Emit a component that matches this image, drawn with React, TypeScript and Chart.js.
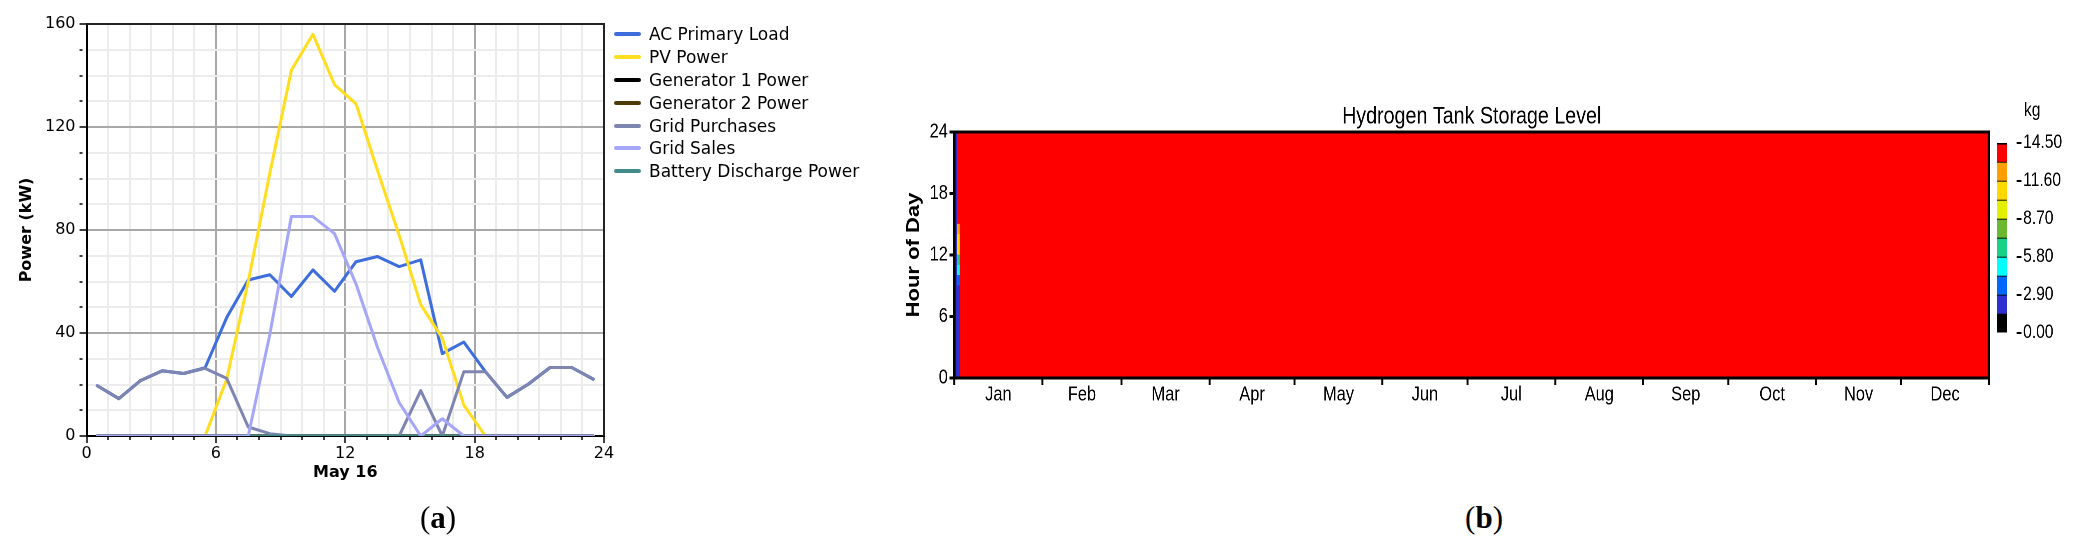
import React, { useEffect, useRef } from 'react';
import { Chart, registerables } from 'chart.js';

Chart.register(...registerables);

// ---------------- Panel (a): daily power profile, May 16 ----------------
const hourOfDay = [0.5, 1.5, 2.5, 3.5, 4.5, 5.5, 6.5, 7.5, 8.5, 9.5, 10.5, 11.5, 12.5, 13.5, 14.5, 15.5, 16.5, 17.5, 18.5, 19.5, 20.5, 21.5, 22.5, 23.5];
const acPrimaryLoad = [19.5, 14.5, 21.5, 25.3, 24.3, 26.5, 46, 60.6, 62.6, 54.2, 64.5, 56.2, 67.7, 69.7, 65.8, 68.4, 32, 36.5, 25, 15, 20.2, 26.6, 26.6, 22.1];
const pvPower = [0, 0, 0, 0, 0, 0, 22, 60, 102, 142, 156, 136.5, 129, 103, 78, 51, 38, 12, 0, 0, 0, 0, 0, 0];
const generator1Power = [0, 0, 0, 0, 0, 0, 0, 0, 0, 0, 0, 0, 0, 0, 0, 0, 0, 0, 0, 0, 0, 0, 0, 0];
const generator2Power = [0, 0, 0, 0, 0, 0, 0, 0, 0, 0, 0, 0, 0, 0, 0, 0, 0, 0, 0, 0, 0, 0, 0, 0];
const gridPurchases = [19.5, 14.5, 21.5, 25.3, 24.3, 26.3, 22.4, 3.5, 0.9, 0, 0, 0, 0, 0, 0, 17.6, 0, 25, 25, 15, 20.2, 26.6, 26.6, 22.1];
const gridSales = [0, 0, 0, 0, 0, 0, 0, 0, 39.4, 85.2, 85.2, 78.6, 59, 34.3, 13, 0, 6.7, 0, 0, 0, 0, 0, 0, 0];
const batteryDischargePower = [0, 0, 0, 0, 0, 0, 0, 0, 0, 0, 0, 0, 0, 0, 0, 0, 0, 0, 0, 0, 0, 0, 0, 0];

const seriesA = [
  { label: 'AC Primary Load', values: acPrimaryLoad, color: '#3D6EDC', layer: 6 },
  { label: 'PV Power', values: pvPower, color: '#FFDD1F', layer: 5 },
  { label: 'Generator 1 Power', values: generator1Power, color: '#000000', layer: 4 },
  { label: 'Generator 2 Power', values: generator2Power, color: '#4D3B0C', layer: 3 },
  { label: 'Grid Purchases', values: gridPurchases, color: '#7E85B0', layer: 2 },
  { label: 'Grid Sales', values: gridSales, color: '#A6A6F8', layer: 0 },
  { label: 'Battery Discharge Power', values: batteryDischargePower, color: '#438B8A', layer: 1 },
];

// ---------------- Panel (b): hydrogen tank storage level ----------------
const monthNames = ['Jan', 'Feb', 'Mar', 'Apr', 'May', 'Jun', 'Jul', 'Aug', 'Sep', 'Oct', 'Nov', 'Dec'];
const daysInMonth = [31, 28, 31, 30, 31, 30, 31, 31, 30, 31, 30, 31];
const hourRows = [0, 1, 2, 3, 4, 5, 6, 7, 8, 9, 10, 11, 12, 13, 14, 15, 16, 17, 18, 19, 20, 21, 22, 23];
const jan1StorageKg = [2.2, 2.2, 2.2, 2.2, 2.2, 2.2, 2.2, 2.2, 2.2, 2.2, 2.2, 2.2, 2.2, 2.2, 2.2, 2.2, 2.2, 2.2, 2.2, 2.2, 2.2, 2.2, 2.2, 2.2];
const jan2StorageKg = [2.2, 2.2, 2.2, 2.2, 2.2, 2.2, 2.2, 2.2, 2.2, 3.6, 5.1, 6.6, 10.9, 11.3, 12.4, 14.5, 14.5, 14.5, 14.5, 14.5, 14.5, 14.5, 14.5, 14.5];
const laterDaysStorageKg = 14.5;
const legendEdgesKg = [0, 1.45, 2.9, 4.35, 5.8, 7.25, 8.7, 10.15, 11.6, 13.05, 14.5];
const legendColors = ['#000000', '#3030D0', '#0066FF', '#00FFFF', '#18D088', '#6CB82E', '#E2F000', '#FFD800', '#FFA000', '#FF0000'];
const legendTickKg = [0, 2.9, 5.8, 8.7, 11.6, 14.5];

// Panel (b) text is condensed: its canvases are drawn wide and squeezed horizontally.
const SQUEEZE = 0.82;
const ARIAL = "'Liberation Sans', Arial, sans-serif";
const SANS = "'DejaVu Sans', sans-serif";

function bandColor(kg: number): string {
  for (let i = 0; i < legendColors.length; i++) {
    if (kg < legendEdgesKg[i + 1]) return legendColors[i];
  }
  return legendColors[legendColors.length - 1];
}

function storageAt(day: number, hour: number): number {
  if (day === 0) return jan1StorageKg[hour];
  if (day === 1) return jan2StorageKg[hour];
  return laterDaysStorageKg;
}

function PowerChart() {
  const ref = useRef<HTMLCanvasElement>(null);
  useEffect(() => {
    const frame = {
      id: 'frameA',
      beforeDatasetsDraw(chart: any) {
        const { ctx, chartArea: a } = chart;
        ctx.save();
        ctx.strokeStyle = '#222';
        ctx.lineWidth = 2;
        ctx.beginPath();
        ctx.moveTo(a.left, a.top);
        ctx.lineTo(a.right, a.top);
        ctx.lineTo(a.right, a.bottom);
        ctx.stroke();
        ctx.restore();
      },
    };
    const chart = new Chart(ref.current as HTMLCanvasElement, {
      type: 'line',
      data: {
        datasets: seriesA.map((s) => ({
          label: s.label,
          data: hourOfDay.map((h, i) => ({ x: h, y: s.values[i] })),
          borderColor: s.color,
          backgroundColor: s.color,
          borderWidth: 3,
          pointRadius: 0,
          tension: 0,
          order: s.layer,
          borderJoinStyle: 'round',
          borderCapStyle: 'round',
        })),
      },
      options: {
        responsive: false,
        animation: false,
        events: [],
        layout: { padding: { top: 24, right: 26, bottom: 19, left: 15 } },
        plugins: { legend: { display: false }, tooltip: { enabled: false } },
        scales: {
          x: {
            type: 'linear',
            min: 0,
            max: 24,
            ticks: {
              stepSize: 1,
              autoSkip: false,
              maxRotation: 0,
              padding: 3,
              color: '#000',
              font: { family: SANS, size: 16, lineHeight: 1 },
              callback: (v: any) => (Number(v) % 6 === 0 ? String(v) : ''),
            },
            grid: {
              color: (c: any) => (c.tick && c.tick.value % 6 === 0 ? '#A8A8A8' : '#ECECEC'),
              lineWidth: 2,
              tickLength: 7,
              tickColor: '#000',
              tickWidth: 1.5,
              tickBorderDash: (c: any) => (c.tick && c.tick.value % 6 === 0 ? [] : [3, 100]),
            },
            border: { color: '#000', width: 2 },
            title: {
              display: true,
              text: 'May 16',
              color: '#000',
              font: { family: SANS, size: 16, weight: 'bold', lineHeight: 1 },
              padding: { top: 0, bottom: 0 },
            },
          },
          y: {
            type: 'linear',
            min: 0,
            max: 160,
            ticks: {
              stepSize: 10,
              autoSkip: false,
              padding: 4,
              color: '#000',
              font: { family: SANS, size: 16, lineHeight: 1 },
              callback: (v: any) => (Number(v) % 40 === 0 ? String(v) : ''),
            },
            grid: {
              color: (c: any) => (c.tick && c.tick.value % 40 === 0 ? '#A8A8A8' : '#ECECEC'),
              lineWidth: 2,
              tickLength: 7,
              tickColor: '#000',
              tickWidth: 1.5,
              tickBorderDash: (c: any) => (c.tick && c.tick.value % 40 === 0 ? [] : [3, 100]),
            },
            border: { color: '#000', width: 2 },
            title: {
              display: true,
              text: 'Power (kW)',
              color: '#000',
              font: { family: SANS, size: 16, weight: 'bold', lineHeight: 1 },
              padding: { top: 4, bottom: 6 },
            },
          },
        },
      } as any,
      plugins: [frame],
    });
    return () => chart.destroy();
  }, []);
  return <canvas ref={ref} width={630} height={500} style={{ position: 'absolute', left: 0, top: 0 }} />;
}

function StorageHeatmap() {
  const ref = useRef<HTMLCanvasElement>(null);
  useEffect(() => {
    const boundaries: number[] = [0];
    daysInMonth.forEach((d) => boundaries.push(boundaries[boundaries.length - 1] + d));
    const midpoints = monthNames.map((_, i) => (boundaries[i] + boundaries[i + 1]) / 2);
    const totalDays = boundaries[boundaries.length - 1];

    const datasets = hourRows.map((h) => {
      const pts = Array.from({ length: totalDays }, (_, d) => ({ x: d + 0.5, y: [h, h + 1], kg: storageAt(d, h) }));
      return {
        label: 'Hour ' + h,
        data: pts,
        backgroundColor: pts.map((p) => bandColor(p.kg)),
        borderWidth: 0,
        grouped: false,
        barPercentage: 1,
        categoryPercentage: 1,
      };
    });

    const deco = {
      id: 'decoB',
      afterDatasetsDraw(chart: any) {
        const { ctx, chartArea: a } = chart;
        ctx.save();
        ctx.strokeStyle = '#000';
        ctx.lineWidth = 3;
        ctx.strokeRect(a.left, a.top, a.right - a.left, a.bottom - a.top);
        ctx.fillStyle = '#000';
        ctx.font = `normal 24px ${ARIAL}`;
        ctx.textAlign = 'center';
        ctx.textBaseline = 'middle';
        ctx.fillText('Hydrogen Tank Storage Level', (a.left + a.right) / 2, a.top - 15);
        ctx.restore();
      },
    };

    const chart = new Chart(ref.current as HTMLCanvasElement, {
      type: 'bar',
      data: { datasets },
      options: {
        responsive: false,
        animation: false,
        events: [],
        devicePixelRatio: 2,
        layout: { padding: { top: 42, right: 25.6, bottom: 25, left: 27 } },
        plugins: { legend: { display: false }, tooltip: { enabled: false } },
        scales: {
          x: {
            type: 'linear',
            min: 0,
            max: totalDays,
            offset: false,
            afterBuildTicks: (scale: any) => {
              scale.ticks = [...boundaries, ...midpoints].sort((p, q) => p - q).map((v) => ({ value: v }));
            },
            ticks: {
              autoSkip: false,
              maxRotation: 0,
              padding: 0,
              color: '#000',
              font: { family: ARIAL, size: 20, lineHeight: 1 },
              callback: (v: any) => {
                const i = midpoints.indexOf(Number(v));
                return i >= 0 ? monthNames[i] : '';
              },
            },
            grid: {
              offset: false,
              drawOnChartArea: false,
              tickLength: 7,
              tickWidth: 2.4,
              tickColor: (c: any) => (c.tick && boundaries.indexOf(c.tick.value) >= 0 ? '#000' : 'rgba(0,0,0,0)'),
            },
            border: { color: '#000', width: 3 },
          },
          y: {
            type: 'linear',
            min: 0,
            max: 24,
            ticks: {
              stepSize: 6,
              padding: 2,
              color: '#000',
              font: { family: ARIAL, size: 20, lineHeight: 1 },
            },
            grid: { drawOnChartArea: false, tickLength: 6, tickWidth: 3, tickColor: '#000' },
            border: { color: '#000', width: 3 },
            title: {
              display: true,
              text: 'Hour of Day',
              color: '#000',
              font: { family: ARIAL, size: 22, weight: 'bold', lineHeight: 1 },
              padding: { top: 3.5, bottom: 6 },
            },
          },
        },
      } as any,
      plugins: [deco],
    });
    return () => chart.destroy();
  }, []);
  return (
    <div style={{ position: 'absolute', left: 880, top: 90, transform: `scaleX(${SQUEEZE})`, transformOrigin: '0 0' }}>
      <canvas ref={ref} style={{ display: 'block', width: 1378, height: 340 }} width={1378} height={340} />
    </div>
  );
}

function StorageColorBar() {
  const ref = useRef<HTMLCanvasElement>(null);
  useEffect(() => {
    const unit = {
      id: 'unitLabel',
      afterDraw(chart: any) {
        const { ctx, chartArea: a } = chart;
        ctx.save();
        ctx.fillStyle = '#000';
        ctx.font = `normal 19px ${ARIAL}`;
        ctx.textAlign = 'left';
        ctx.textBaseline = 'alphabetic';
        ctx.fillText('kg', a.right + 9, a.top - 27);
        ctx.restore();
      },
    };
    const chart = new Chart(ref.current as HTMLCanvasElement, {
      type: 'bar',
      data: {
        labels: ['kg'],
        datasets: legendColors.map((c, i) => ({
          label: legendEdgesKg[i] + '–' + legendEdgesKg[i + 1],
          data: [[legendEdgesKg[i], legendEdgesKg[i + 1]]],
          backgroundColor: c,
          borderColor: '#000',
          borderWidth: { top: i === legendColors.length - 1 ? 2 : 1, right: 0, bottom: 0, left: 0 },
          borderSkipped: false,
          grouped: false,
          barPercentage: 1,
          categoryPercentage: 1,
        })),
      },
      options: {
        responsive: false,
        animation: false,
        events: [],
        devicePixelRatio: 2,
        layout: { padding: { top: 43, right: 17.5, bottom: 27, left: 14.6 } },
        plugins: { legend: { display: false }, tooltip: { enabled: false } },
        scales: {
          x: { display: false, offset: false },
          y: {
            position: 'right',
            min: 0,
            max: 14.5,
            afterBuildTicks: (scale: any) => {
              scale.ticks = legendTickKg.map((v) => ({ value: v }));
            },
            afterFit: (scale: any) => {
              scale.width = 56;
            },
            ticks: {
              padding: 2,
              color: '#000',
              font: { family: ARIAL, size: 19, lineHeight: 1 },
              callback: (v: any) => Number(v).toFixed(2),
            },
            grid: { drawOnChartArea: false, tickLength: 6, tickWidth: 2, tickColor: '#000' },
            border: { display: false },
          },
        },
      } as any,
      plugins: [unit],
    });
    return () => chart.destroy();
  }, []);
  return (
    <div style={{ position: 'absolute', left: 1985, top: 100, transform: `scaleX(${SQUEEZE})`, transformOrigin: '0 0' }}>
      <canvas ref={ref} style={{ display: 'block', width: 112, height: 260 }} width={112} height={260} />
    </div>
  );
}

function Legend() {
  const rowCenters = [34.3, 57.1, 79.9, 102.7, 125.5, 148.3, 171.1];
  return (
    <>
      {seriesA.map((s, i) => (
        <div
          key={s.label}
          style={{
            position: 'absolute',
            left: 614,
            top: rowCenters[i] - 11,
            height: 22,
            display: 'flex',
            alignItems: 'center',
            whiteSpace: 'nowrap',
            fontFamily: SANS,
            fontSize: 17,
            color: '#000',
          }}
        >
          <span style={{ display: 'inline-block', width: 27, height: 4, borderRadius: 2, background: s.color }} />
          <span style={{ marginLeft: 8 }}>{s.label}</span>
        </div>
      ))}
    </>
  );
}

function PanelLabel({ x, letter }: { x: number; letter: string }) {
  return (
    <div
      style={{
        position: 'absolute',
        left: x,
        top: 517,
        transform: 'translate(-50%, -50%)',
        fontFamily: "'Liberation Serif', serif",
        fontSize: 31,
        lineHeight: 1,
        color: '#000',
        whiteSpace: 'nowrap',
      }}
    >
      (<b>{letter}</b>)
    </div>
  );
}

export default function App() {
  return (
    <div style={{ position: 'absolute', left: 0, top: 0, width: 2077, height: 550, background: '#fff', overflow: 'hidden' }}>
      <PowerChart />
      <Legend />
      <StorageHeatmap />
      <StorageColorBar />
      <PanelLabel x={438} letter="a" />
      <PanelLabel x={1484} letter="b" />
    </div>
  );
}
